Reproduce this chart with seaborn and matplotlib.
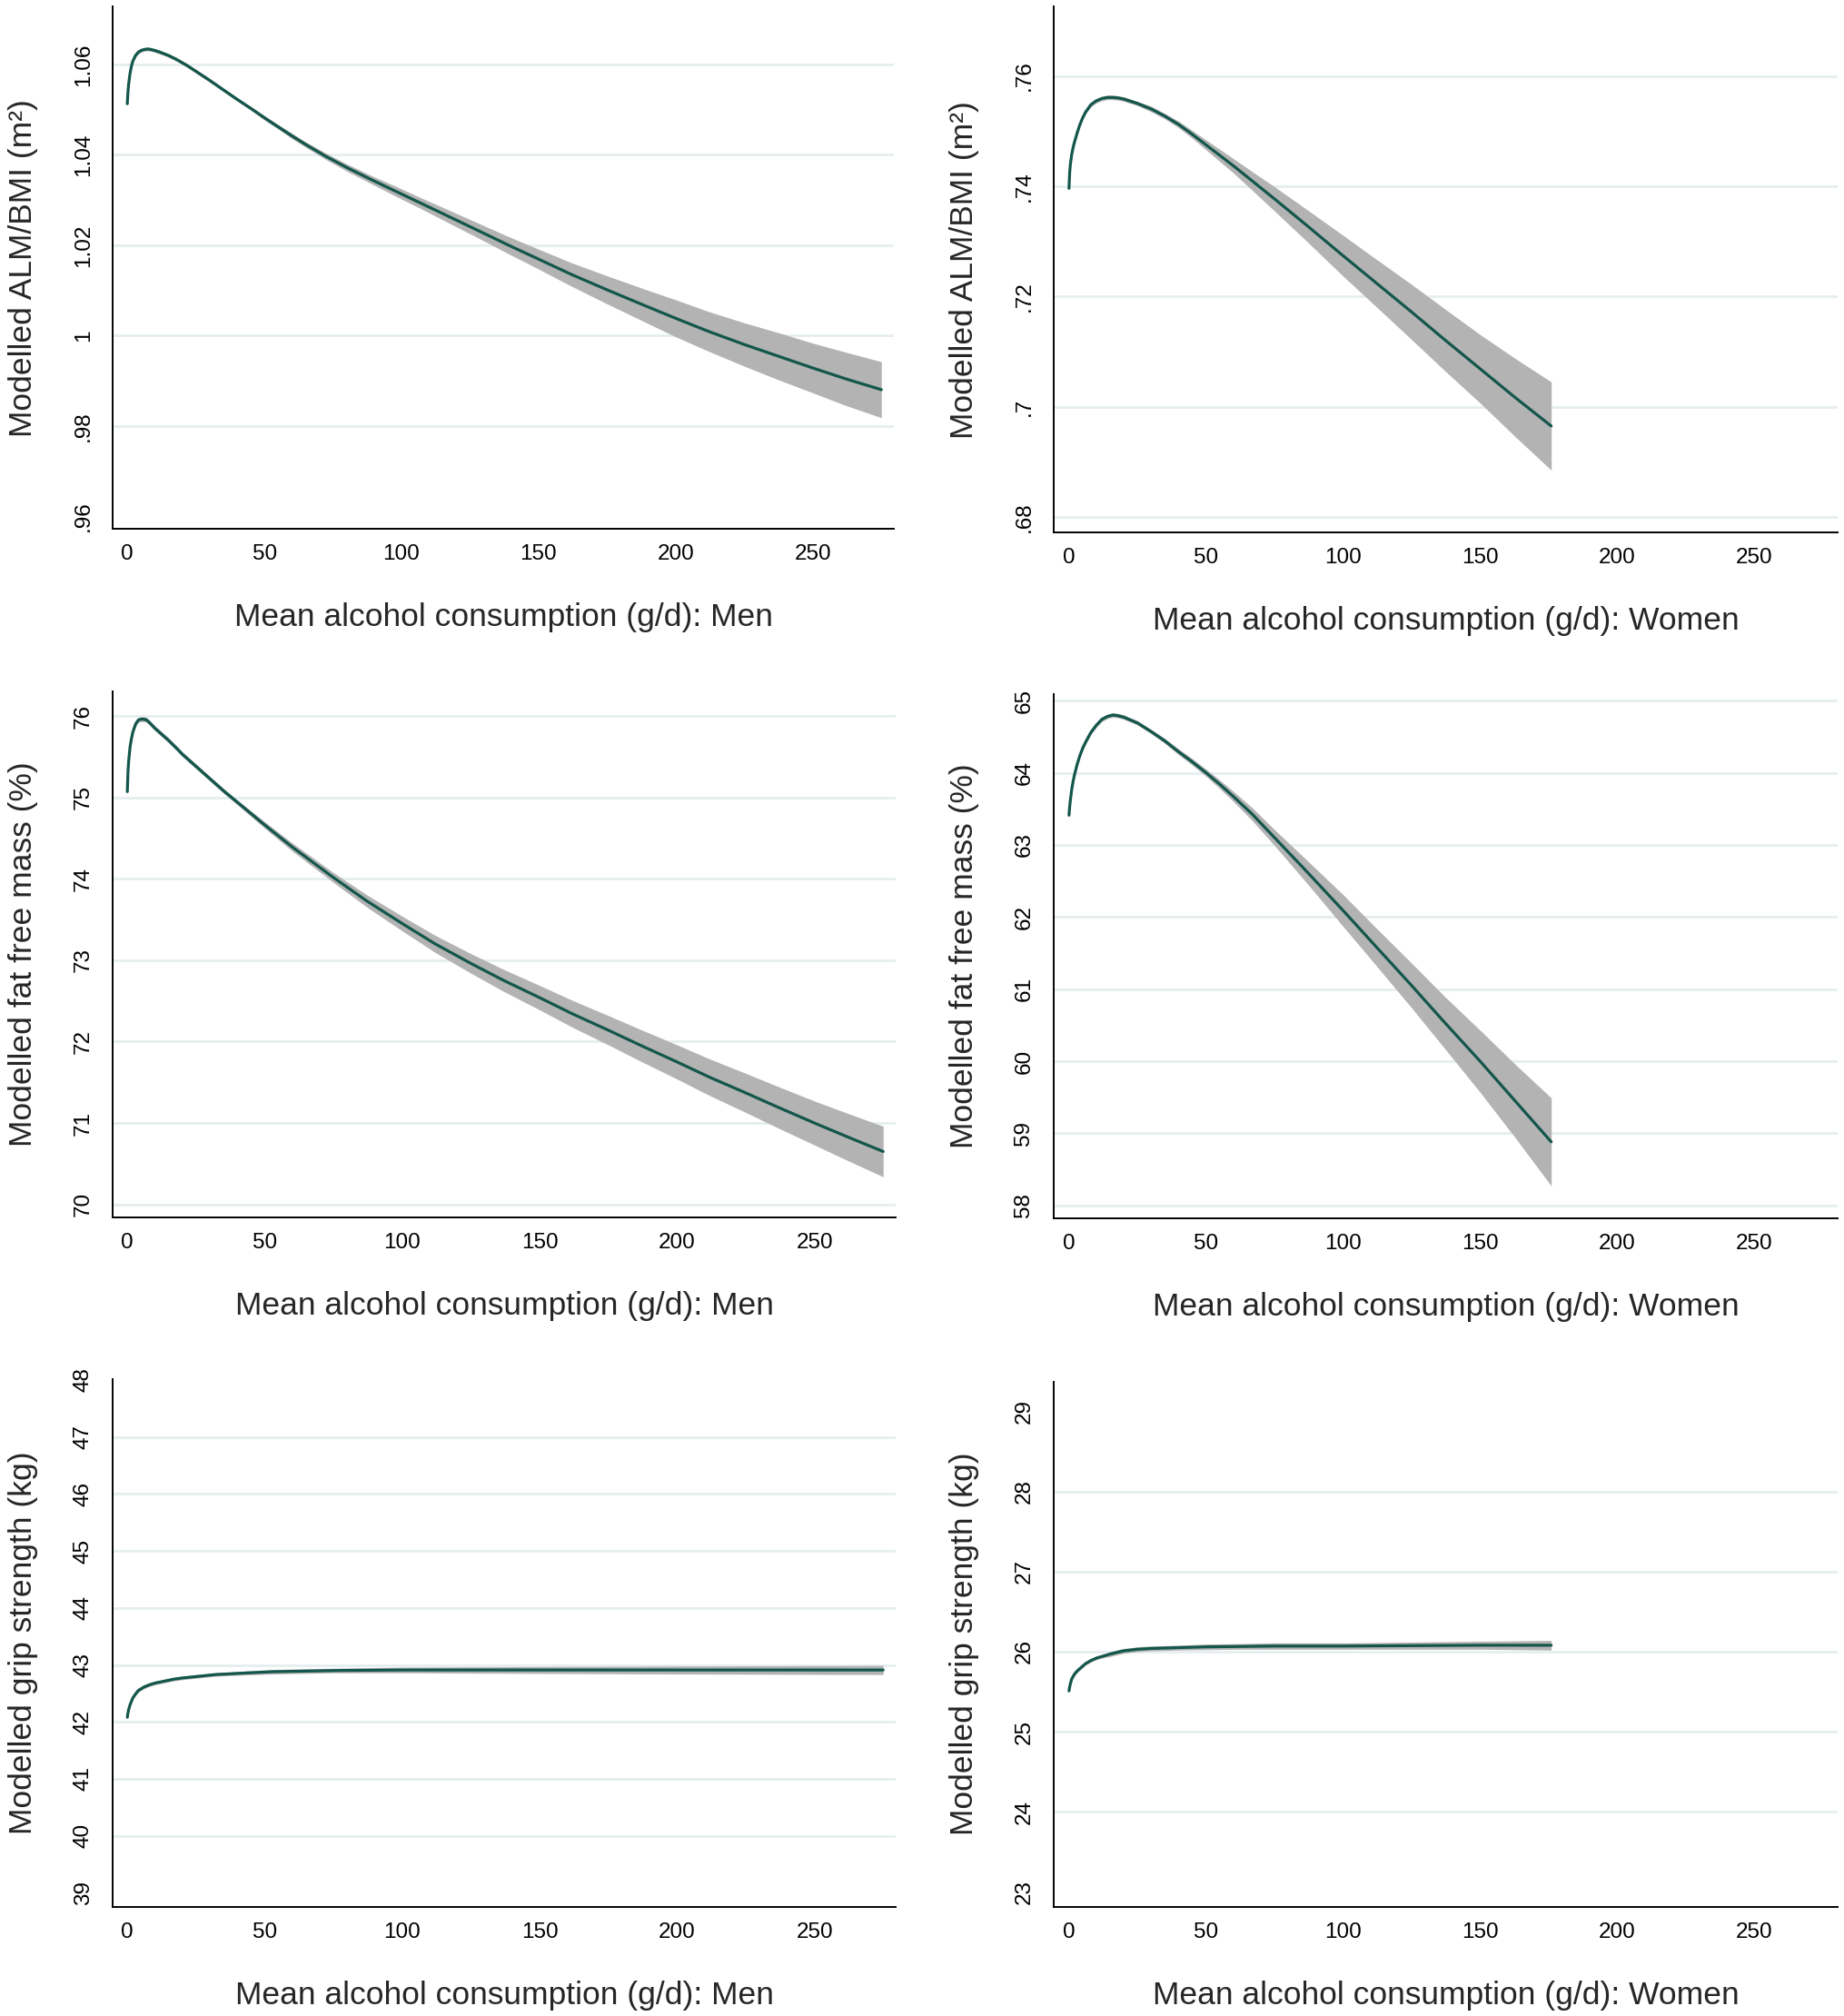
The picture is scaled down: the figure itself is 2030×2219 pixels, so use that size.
import matplotlib
matplotlib.use('Agg')
import matplotlib.pyplot as plt
import numpy as np
import seaborn as sns

# ---- data ----
# Men, ALM/BMI
men_alm_x = [0, 0.25, 0.5, 1, 1.5, 2, 3, 4, 5, 6, 7, 8, 10, 12, 15, 18, 22, 26, 30, 35, 40, 45, 50,
             55, 60, 65, 72, 80, 89, 98, 107, 116, 126, 139, 150, 162, 175, 188, 200, 212, 225, 237,
             250, 262, 275]
men_alm_y = [1.0513, 1.0540, 1.0557, 1.0580, 1.0596, 1.0607, 1.0620, 1.0627, 1.0631, 1.0633, 1.0634,
             1.0634, 1.0631, 1.0627, 1.0620, 1.0611, 1.0597, 1.0581, 1.0565, 1.0544, 1.0523, 1.0503,
             1.0482, 1.0462, 1.0442, 1.0423, 1.0398, 1.0372, 1.0345, 1.0319, 1.0293, 1.0267, 1.0238,
             1.0200, 1.0169, 1.0135, 1.0101, 1.0068, 1.0038, 1.0009, 0.9980, 0.9955, 0.9928, 0.9904,
             0.9880]
men_alm_ci = [0.0002, 0.0002, 0.0003, 0.0003, 0.0003, 0.0003, 0.0004, 0.0004, 0.0004, 0.0004, 0.0004,
              0.0004, 0.0004, 0.0004, 0.0004, 0.0004, 0.0004, 0.0004, 0.0004, 0.0004, 0.0004, 0.0004,
              0.0005, 0.0005, 0.0006, 0.0006, 0.0007, 0.0008, 0.0009, 0.0011, 0.0012, 0.0014, 0.0016,
              0.0019, 0.0022, 0.0026, 0.0031, 0.0036, 0.0041, 0.0044, 0.0048, 0.0052, 0.0055, 0.0059,
              0.0062]

# Women, ALM/BMI
wom_alm_x = [0, 0.25, 0.5, 1, 1.5, 2, 3, 4, 5, 6, 8, 10, 12, 14, 16, 18, 20, 25, 30, 35, 40, 45, 50,
             55, 60, 67, 75, 87, 100, 112, 125, 137, 150, 163, 176]
wom_alm_y = [0.7396, 0.7425, 0.7440, 0.7458, 0.7470, 0.7480, 0.7497, 0.7512, 0.7524, 0.7534, 0.7548,
             0.7555, 0.7559, 0.7561, 0.7561, 0.7560, 0.7558, 0.7550, 0.7540, 0.7527, 0.7512, 0.7494,
             0.7475, 0.7456, 0.7437, 0.7409, 0.7377, 0.7328, 0.7274, 0.7225, 0.7172, 0.7122, 0.7069,
             0.7016, 0.6965]
wom_alm_ci = [0.0002, 0.0002, 0.0002, 0.0003, 0.0003, 0.0003, 0.0003, 0.0003, 0.0003, 0.0003, 0.0004,
              0.0004, 0.0004, 0.0004, 0.0004, 0.0004, 0.0004, 0.0004, 0.0005, 0.0005, 0.0006, 0.0007,
              0.0009, 0.0011, 0.0013, 0.0017, 0.0022, 0.0029, 0.0037, 0.0043, 0.0050, 0.0056, 0.0062,
              0.0071, 0.0080]

# Men, fat free mass
men_ffm_x = [0, 0.25, 0.5, 1, 1.5, 2, 3, 4, 5, 6, 7, 8, 10, 12, 15, 18, 20, 25, 30, 35, 40, 45, 50,
             60, 75, 87, 100, 112, 125, 137, 150, 162, 175, 187, 200, 212, 225, 237, 250, 262, 275]
men_ffm_y = [75.07, 75.32, 75.45, 75.62, 75.72, 75.80, 75.90, 75.95, 75.96, 75.96, 75.95, 75.92,
             75.85, 75.79, 75.70, 75.60, 75.53, 75.38, 75.23, 75.08, 74.94, 74.80, 74.66, 74.39,
             74.015, 73.73, 73.45, 73.20, 72.96, 72.75, 72.54, 72.34, 72.14, 71.95, 71.75, 71.56,
             71.37, 71.19, 71.00, 70.83, 70.65]
men_ffm_ci = [0.02, 0.02, 0.02, 0.02, 0.02, 0.02, 0.03, 0.03, 0.03, 0.03, 0.03, 0.03, 0.03, 0.03,
              0.03, 0.03, 0.03, 0.03, 0.03, 0.03, 0.03, 0.035, 0.04, 0.05, 0.06, 0.075, 0.09, 0.105,
              0.12, 0.135, 0.15, 0.165, 0.18, 0.195, 0.21, 0.225, 0.24, 0.255, 0.27, 0.29, 0.31]

# Women, fat free mass
wom_ffm_x = [0, 0.25, 0.5, 1, 1.5, 2, 3, 4, 5, 6, 8, 10, 12, 14, 16, 18, 20, 25, 30, 35, 40, 45, 50,
             55, 60, 67, 75, 87, 100, 112, 125, 137, 150, 163, 176]
wom_ffm_y = [63.41, 63.53, 63.62, 63.77, 63.88, 63.97, 64.12, 64.24, 64.34, 64.42, 64.56, 64.66,
             64.74, 64.78, 64.80, 64.79, 64.77, 64.69, 64.57, 64.44, 64.29, 64.15, 64.00, 63.84,
             63.67, 63.42, 63.10, 62.62, 62.09, 61.59, 61.05, 60.54, 60.00, 59.44, 58.88]
wom_ffm_ci = [0.02, 0.02, 0.02, 0.02, 0.02, 0.03, 0.03, 0.03, 0.03, 0.03, 0.03, 0.03, 0.03, 0.03,
              0.03, 0.03, 0.03, 0.03, 0.03, 0.035, 0.04, 0.045, 0.05, 0.06, 0.07, 0.09, 0.11, 0.16,
              0.22, 0.26, 0.31, 0.36, 0.43, 0.51, 0.61]

# Men, grip strength
men_grip_x = [0, 0.25, 0.5, 1, 1.5, 2, 3, 4, 5, 6, 8, 10, 12, 14, 17, 20, 24, 28, 32, 36, 44, 53,
              64, 75, 87, 100, 125, 150, 175, 200, 225, 250, 275]
men_grip_y = [42.08, 42.16, 42.22, 42.30, 42.36, 42.42, 42.49, 42.55, 42.58, 42.61, 42.65, 42.68,
              42.70, 42.72, 42.75, 42.77, 42.79, 42.81, 42.83, 42.84, 42.86, 42.88, 42.89, 42.90,
              42.905, 42.91, 42.91, 42.91, 42.91, 42.91, 42.91, 42.91, 42.91]
men_grip_ci = [0.02, 0.02, 0.02, 0.02, 0.02, 0.02, 0.03, 0.03, 0.03, 0.03, 0.03, 0.03, 0.03, 0.03,
               0.03, 0.03, 0.03, 0.03, 0.03, 0.03, 0.035, 0.04, 0.04, 0.04, 0.045, 0.05, 0.055,
               0.06, 0.065, 0.07, 0.073, 0.077, 0.08]

# Women, grip strength
wom_grip_x = [0, 0.25, 0.5, 1, 1.5, 2, 3, 4, 5, 6, 7, 8, 10, 12, 15, 18, 20, 25, 30, 40, 50, 62,
              75, 100, 125, 150, 176]
wom_grip_y = [25.51, 25.56, 25.60, 25.66, 25.69, 25.72, 25.76, 25.79, 25.82, 25.85, 25.87, 25.89,
              25.92, 25.94, 25.97, 25.995, 26.01, 26.03, 26.04, 26.05, 26.06, 26.065, 26.07, 26.07,
              26.075, 26.08, 26.08]
wom_grip_ci = [0.02, 0.02, 0.02, 0.02, 0.02, 0.02, 0.02, 0.02, 0.02, 0.02, 0.02, 0.02, 0.02, 0.02,
               0.03, 0.03, 0.03, 0.03, 0.03, 0.03, 0.035, 0.035, 0.04, 0.04, 0.045, 0.05, 0.06]

x_ticks = [0, 50, 100, 150, 200, 250]

alm_men_ticks = [0.96, 0.98, 1.00, 1.02, 1.04, 1.06]
alm_men_labels = ['.96', '.98', '1', '1.02', '1.04', '1.06']
alm_wom_ticks = [0.68, 0.70, 0.72, 0.74, 0.76]
alm_wom_labels = ['.68', '.7', '.72', '.74', '.76']
ffm_men_ticks = [70, 71, 72, 73, 74, 75, 76]
ffm_wom_ticks = [58, 59, 60, 61, 62, 63, 64, 65]
grip_men_ticks = [39, 40, 41, 42, 43, 44, 45, 46, 47, 48]
grip_wom_ticks = [23, 24, 25, 26, 27, 28, 29]

men_label = 'Mean alcohol consumption (g/d): Men'
wom_label = 'Mean alcohol consumption (g/d): Women'

# ---- style ----
sns.set_style('white')
plt.rcParams['font.family'] = ['Liberation Sans', 'DejaVu Sans']

LINE = '#13564b'
BAND = '#b3b3b3'
GRID = '#e6eef0'

fig = plt.figure(figsize=(20.3, 22.19), dpi=100)

panels = [
    # rect, x, y, ci, yticks, ylabels, grid, ylim, xlim, ylabel, xlabel
    ([0.0613, 0.7377, 0.4235, 0.2590], men_alm_x, men_alm_y, men_alm_ci,
     alm_men_ticks, alm_men_labels, alm_men_ticks[1:], (0.9572, 1.0728), (-5.2, 279.6),
     'Modelled ALM/BMI (m²)', men_label),
    ([0.5714, 0.7359, 0.4251, 0.2609], wom_alm_x, wom_alm_y, wom_alm_ci,
     alm_wom_ticks, alm_wom_labels, alm_wom_ticks, (0.6772, 0.7726), (-5.6, 280.5),
     'Modelled ALM/BMI (m²)', wom_label),
    ([0.0613, 0.3961, 0.4245, 0.2609], men_ffm_x, men_ffm_y, men_ffm_ci,
     ffm_men_ticks, None, ffm_men_ticks, (69.84, 76.30), (-5.2, 279.6),
     'Modelled fat free mass (%)', men_label),
    ([0.5714, 0.3957, 0.4251, 0.2600], wom_ffm_x, wom_ffm_y, wom_ffm_ci,
     ffm_wom_ticks, None, ffm_wom_ticks, (57.82, 65.09), (-5.6, 280.5),
     'Modelled fat free mass (%)', wom_label),
    ([0.0613, 0.0543, 0.4245, 0.2618], men_grip_x, men_grip_y, men_grip_ci,
     grip_men_ticks, None, grip_men_ticks[1:-1], (38.76, 48.02), (-5.2, 279.6),
     'Modelled grip strength (kg)', men_label),
    ([0.5714, 0.0543, 0.4251, 0.2604], wom_grip_x, wom_grip_y, wom_grip_ci,
     grip_wom_ticks, None, grip_wom_ticks[1:-1], (22.82, 29.37), (-5.6, 280.5),
     'Modelled grip strength (kg)', wom_label),
]

for rect, x, y, ci, yt, yl, grid, ylim, xlim, ylab, xlab in panels:
    ax = fig.add_axes(rect)
    x = np.asarray(x)
    y = np.asarray(y)
    ci = np.asarray(ci)
    for g in grid:
        ax.axhline(g, color=GRID, lw=2.0, zorder=0)
    ax.fill_between(x, y - ci, y + ci, color=BAND, lw=0, zorder=1)
    sns.lineplot(x=x, y=y, ax=ax, color=LINE, lw=2.3, estimator=None, zorder=2)

    ax.set_xlim(*xlim)
    ax.set_ylim(*ylim)
    ax.set_xticks(x_ticks)
    ax.set_yticks(yt)
    if yl is not None:
        ax.set_yticklabels(yl)
    ax.grid(False)

    for side in ['top', 'right']:
        ax.spines[side].set_visible(False)
    for side in ['left', 'bottom']:
        ax.spines[side].set_color('black')
        ax.spines[side].set_linewidth(1.4)

    ax.tick_params(axis='both', direction='out', length=8.5, width=1.3, color='black',
                   labelsize=17.5, labelcolor='black')
    ax.tick_params(axis='x', pad=4)
    ax.tick_params(axis='y', pad=7)
    plt.setp(ax.get_yticklabels(), rotation=90, va='center')

    ax.set_xlabel(xlab, fontsize=25.5, labelpad=30)
    ax.set_ylabel(ylab, fontsize=25.5, labelpad=28)

fig.savefig('out.png', dpi=100, facecolor='white')
